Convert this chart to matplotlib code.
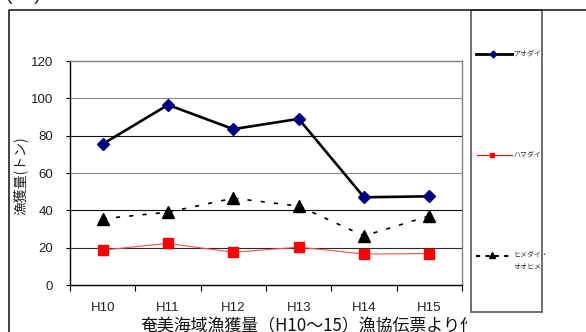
import matplotlib
matplotlib.use("Agg")
import matplotlib.pyplot as plt
from matplotlib.lines import Line2D
from matplotlib.patches import Rectangle
from matplotlib.transforms import Bbox

plt.rcParams['font.family'] = ['Liberation Sans', 'Noto Sans CJK JP', 'DejaVu Sans']

# Catch by fiscal year (tonnes)
years = ["H10", "H11", "H12", "H13", "H14", "H15"]
aodai = [75.5, 96.5, 83.5, 89.0, 47.0, 47.5]
hamadai = [18.7, 22.3, 17.5, 20.3, 16.6, 16.8]
himedai = [35.5, 39.0, 46.5, 42.3, 26.3, 37.0]
series_names = ["アオダイ", "ハマダイ", "ヒメダイ・\nオオヒメ"]
yticks = [0, 20, 40, 60, 80, 100, 120]

W, H = 586, 332
fig = plt.figure(figsize=(W / 100, H / 100), dpi=100)

# pixel-space overlay for frames and legend
ov = fig.add_axes([0, 0, 1, 1], zorder=0)
ov.set_xlim(0, W)
ov.set_ylim(H, 0)
ov.axis('off')

# outer frame
ov.plot([8.5, 8.5, W + 5], [H + 5, 9.5, 9.5], color='#222222', lw=1.2,
        solid_capstyle='butt', clip_on=False)
# legend box
ov.add_patch(Rectangle((471, 9.5), 71, 302.5, fill=False, edgecolor='#555555', lw=1.2))

ax = fig.add_axes([70 / W, (H - 285) / H, (462 - 70) / W, 224 / H], zorder=2)
ax.patch.set_alpha(0)
x = list(range(len(years)))

grid_colors = {20: '#2a2a2a', 40: '#111111', 60: '#8a8a8a', 80: '#111111', 100: '#8a8a8a'}
for v, c in grid_colors.items():
    ax.axhline(v, color=c, lw=0.8, zorder=1)

ax.plot(x, aodai, color='black', lw=1.9, marker='D', ms=6.5,
        markerfacecolor='#000080', markeredgecolor='#000080', zorder=4)
ax.plot(x, hamadai, color='#ff5050', lw=0.8, marker='s', ms=6.5,
        markerfacecolor='#ff0000', markeredgecolor='#ff0000', zorder=3)
ax.plot(x, himedai, color='black', lw=1.2, dashes=(2.5, 5.5), marker='^', ms=8,
        markerfacecolor='black', markeredgecolor='black', zorder=3)

ax.set_xlim(-0.5, len(years) - 0.5)
ax.set_ylim(0, 120)
ax.set_yticks(yticks)
ax.set_yticklabels([str(v) for v in yticks])
ax.set_xticks(x)
ax.set_xticklabels(years)
ax.set_xticks([i + 0.5 for i in range(-1, len(years))], minor=True)
ax.tick_params(axis='x', which='major', length=0, pad=12, labelsize=9.5, labelcolor='#222222')
ax.tick_params(axis='x', which='minor', length=4, width=0.8, direction='out', color='black')
ax.tick_params(axis='y', length=3, width=0.8, direction='out', pad=9, labelsize=9.5,
               labelcolor='#222222')
for s in ('left', 'bottom'):
    ax.spines[s].set_color('black')
    ax.spines[s].set_linewidth(1.0)
for s in ('top', 'right'):
    ax.spines[s].set_color('#808080')
    ax.spines[s].set_linewidth(1.0)

fig.text(20 / W, 1 - 176 / H, "漁獲量(トン)", rotation=90, ha='center', va='center',
         fontsize=10, color='#222222', family=['Noto Sans CJK JP', 'DejaVu Sans'])

cap = fig.text(140 / W, 1 - 326 / H, "奄美海域漁獲量（H10～15）漁協伝票より作成",
               ha='left', va='center', fontsize=12.2, color='#111111',
               family=['Noto Sans CJK JP', 'DejaVu Sans'])
cap.set_clip_box(Bbox.from_extents(0, 0, 467, H))
cap.set_clip_on(True)

fig.text(6 / W, 1 - (-4) / H, "( 1 )", ha='left', va='center', fontsize=14, color='#222222')

# legend entries
leg_font = dict(fontsize=5, color='#333333', style='italic',
                family=['Noto Sans CJK JP', 'DejaVu Sans'])
ov.add_line(Line2D([476, 512], [54, 54], color='black', lw=2.0))
ov.add_line(Line2D([493], [54], marker='D', ms=3.5, color='#000080', lw=0))
ov.text(513, 54, series_names[0], va='center', ha='left', **leg_font)

ov.add_line(Line2D([477, 512], [155, 155], color='#ff0000', lw=0.8))
ov.add_line(Line2D([492], [155], marker='s', ms=3.5, color='#ff0000', lw=0))
ov.text(513, 155, series_names[1], va='center', ha='left', **leg_font)

ov.add_line(Line2D([476, 512], [256, 256], color='black', lw=1.5, dashes=(2, 2.5)))
ov.add_line(Line2D([492], [255], marker='^', ms=4.5, color='black', lw=0))
ov.text(513, 260.5, series_names[2], va='center', ha='left', linespacing=1.6, **leg_font)

fig.savefig("out.png", dpi=100)
